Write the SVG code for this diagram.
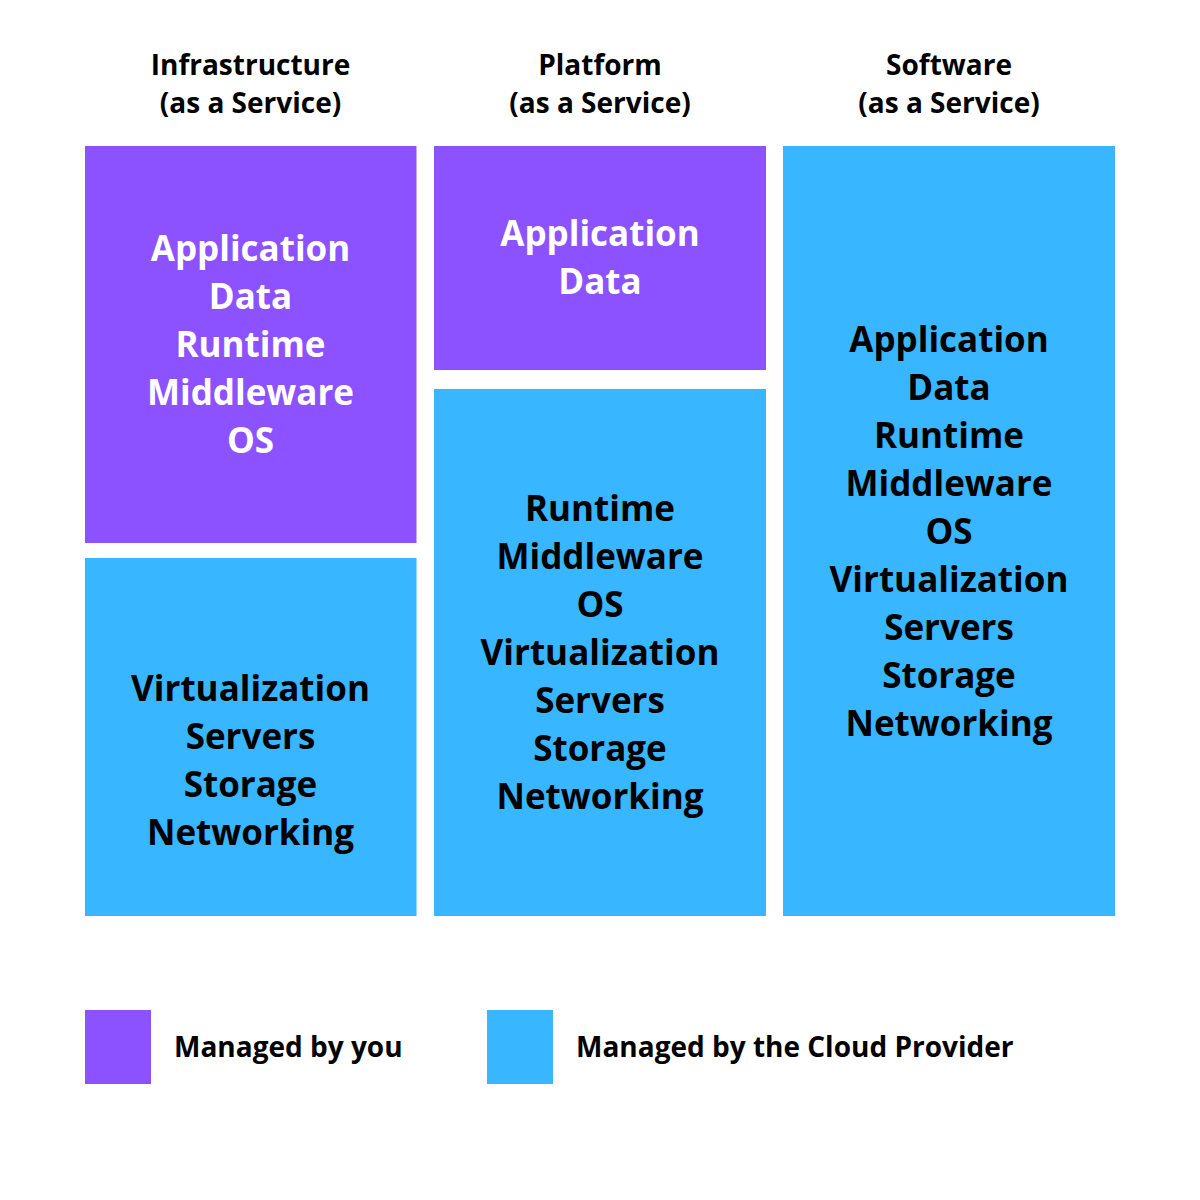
<svg xmlns="http://www.w3.org/2000/svg" width="1200" height="1200" viewBox="0 0 1200 1200">
<style>
.you{fill:#8C52FF}
.cp{fill:#38B6FF}
text{font-family:"Open Sans","Noto Sans","Liberation Sans",sans-serif;font-weight:700}
.hd{font-size:28px;fill:#000;text-anchor:middle}
.w{font-size:35px;fill:#fff;text-anchor:middle}
.b{font-size:35px;fill:#000;text-anchor:middle}
.lg{font-size:28px;fill:#000}
</style>
<rect width="1200" height="1200" fill="#fff"/>
<g id="headers">
<text class="hd" x="250.5" y="75">Infrastructure</text>
<text class="hd" x="250.5" y="113">(as a Service)</text>
<text class="hd" x="600" y="75">Platform</text>
<text class="hd" x="600" y="113">(as a Service)</text>
<text class="hd" x="949" y="75">Software</text>
<text class="hd" x="949" y="113">(as a Service)</text>
</g>
<g id="iaas-you">
<rect class="you" x="85" y="146" width="331.5" height="397"/>
<text class="w" x="250.5" y="261">Application</text>
<text class="w" x="250.5" y="309">Data</text>
<text class="w" x="250.5" y="357">Runtime</text>
<text class="w" x="250.5" y="405">Middleware</text>
<text class="w" x="250.5" y="453">OS</text>
</g>
<g id="iaas-provider">
<rect class="cp" x="85" y="558" width="331.5" height="358"/>
<text class="b" x="250.5" y="701">Virtualization</text>
<text class="b" x="250.5" y="749">Servers</text>
<text class="b" x="250.5" y="797">Storage</text>
<text class="b" x="250.5" y="845">Networking</text>
</g>
<g id="paas-you">
<rect class="you" x="434" y="146" width="332" height="224"/>
<text class="w" x="600" y="246">Application</text>
<text class="w" x="600" y="294">Data</text>
</g>
<g id="paas-provider">
<rect class="cp" x="434" y="389" width="332" height="527"/>
<text class="b" x="600" y="521">Runtime</text>
<text class="b" x="600" y="569">Middleware</text>
<text class="b" x="600" y="617">OS</text>
<text class="b" x="600" y="665">Virtualization</text>
<text class="b" x="600" y="713">Servers</text>
<text class="b" x="600" y="761">Storage</text>
<text class="b" x="600" y="809">Networking</text>
</g>
<g id="saas-provider">
<rect class="cp" x="783" y="146" width="332" height="770"/>
<text class="b" x="949" y="352">Application</text>
<text class="b" x="949" y="400">Data</text>
<text class="b" x="949" y="448">Runtime</text>
<text class="b" x="949" y="496">Middleware</text>
<text class="b" x="949" y="544">OS</text>
<text class="b" x="949" y="592">Virtualization</text>
<text class="b" x="949" y="640">Servers</text>
<text class="b" x="949" y="688">Storage</text>
<text class="b" x="949" y="736">Networking</text>
</g>
<g id="legend-you">
<rect class="you" x="85" y="1010" width="66" height="74"/>
<text class="lg" x="174" y="1057">Managed by you</text>
</g>
<g id="legend-provider">
<rect class="cp" x="487" y="1010" width="66" height="74"/>
<text class="lg" x="576" y="1057">Managed by the Cloud Provider</text>
</g>
<g id="connectors"></g>
</svg>
